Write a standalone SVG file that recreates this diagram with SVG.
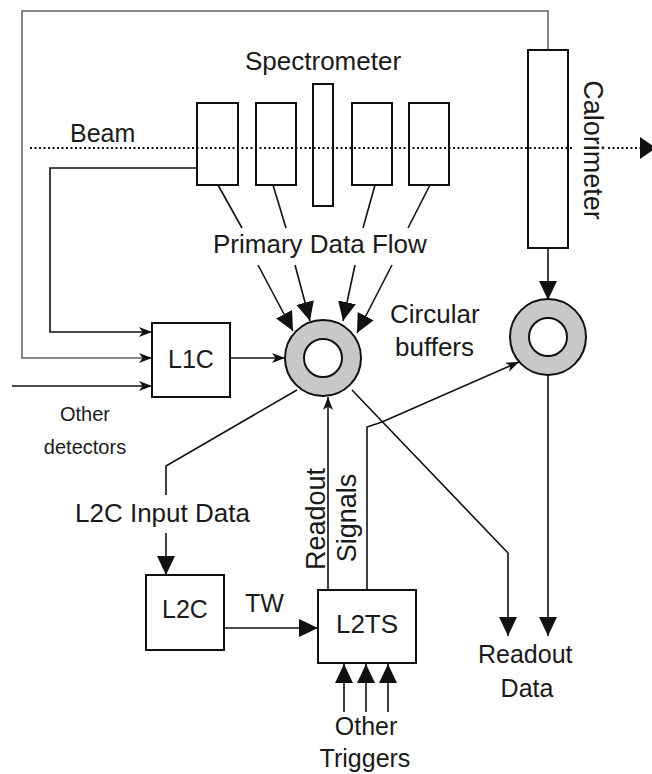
<svg xmlns="http://www.w3.org/2000/svg" width="652" height="774" viewBox="0 0 652 774">
<style>
  text { font-family: "Liberation Sans", Arial, sans-serif; fill: #1a1a1a; }
  .t25 { font-size: 25px; }
  .t26 { font-size: 26px; }
  .t27 { font-size: 27px; }
  .t20 { font-size: 20px; }
  .mid { text-anchor: middle; }
  .box { fill: #fff; stroke: #111; stroke-width: 2; }
  .ln { fill: none; stroke: #111; stroke-width: 1.6; }
  .frame { fill: none; stroke: #666; stroke-width: 1.6; }
  .beam { fill: none; stroke: #111; stroke-width: 2; stroke-dasharray: 2 2.5; }
  .ring { fill: #c8c8c8; stroke: #111; stroke-width: 2; }
  .hole { fill: #fff; stroke: #111; stroke-width: 2; }
  .big { marker-end: url(#big); }
  .small { marker-end: url(#small); }
</style>
<defs>
  <marker id="big" markerUnits="userSpaceOnUse" markerWidth="20" markerHeight="20" viewBox="0 0 20 20" refX="19" refY="10" orient="auto">
    <path d="M0,1 L19,10 L0,19 z" fill="#111"/>
  </marker>
  <marker id="small" markerUnits="userSpaceOnUse" markerWidth="14" markerHeight="10" viewBox="0 0 14 10" refX="13" refY="5" orient="auto">
    <path d="M0,0 L13,5 L0,10 L3.5,5 z" fill="#111"/>
  </marker>
</defs>
<rect width="652" height="774" fill="#fff"/>

<g id="connectors">
  <!-- outer feedback frame from calorimeter to L1C -->
  <path class="frame small" d="M548,50 L548,11 L22,11 L22,358 L152,358"/>
  <!-- first spectrometer chamber to L1C -->
  <path class="ln small" d="M197,168 L50,168 L50,332 L152,332"/>
  <!-- other detectors -->
  <path class="ln small" d="M12,386 L152,386"/>
  <!-- L1C to circular buffer -->
  <path class="ln small" d="M230,358 L285,358"/>
  <!-- primary data flow -->
  <path class="ln" d="M218,185 L242,228"/>
  <path class="ln" d="M273,185 L286,228"/>
  <path class="ln" d="M375,185 L363,228"/>
  <path class="ln" d="M430,185 L408,228"/>
  <path class="ln big" d="M258,265 L293,331"/>
  <path class="ln big" d="M295,265 L310,321"/>
  <path class="ln big" d="M355,265 L343,321"/>
  <path class="ln big" d="M392,265 L357,333"/>
  <!-- calorimeter to its buffer -->
  <path class="ln big" d="M548,248 L548,300"/>
  <!-- buffer to L2C -->
  <path class="ln" d="M297,390 L166,466 L166,495"/>
  <path class="ln big" d="M166,533 L166,575"/>
  <!-- TW -->
  <path class="ln big" d="M224,628 L318,628"/>
  <!-- other triggers -->
  <path class="ln big" d="M344,712 L344,664"/>
  <path class="ln big" d="M366,712 L366,664"/>
  <path class="ln big" d="M388,712 L388,664"/>
  <!-- readout signals -->
  <path class="ln small" d="M328,590 L328,397"/>
  <path class="ln small" d="M367,590 L367,427 L382,422 L519,362"/>
  <!-- readout data -->
  <path class="ln big" d="M352,390 L508,553 L508,636"/>
  <path class="ln big" d="M548,375 L548,636"/>
  <!-- beam -->
  <path class="beam" d="M30,148 L574,148"/>
  <path class="beam" d="M608,148 L641,148"/>
  <path d="M640,137 L656,148 L640,159 z" fill="#111"/>
</g>

<g id="spectrometer">
  <rect class="box" x="197" y="103" width="41" height="82" fill-opacity="0"/>
  <rect class="box" x="256" y="103" width="40" height="82" fill-opacity="0"/>
  <rect class="box" x="313" y="84" width="20" height="122" fill-opacity="0"/>
  <rect class="box" x="352" y="103" width="40" height="82" fill-opacity="0"/>
  <rect class="box" x="409" y="103" width="40" height="82" fill-opacity="0"/>
  <text class="t26" x="245" y="70">Spectrometer</text>
</g>

<g id="beam-label">
  <text class="t25" x="70" y="142">Beam</text>
</g>

<g id="calorimeter">
  <rect class="box" x="528" y="50" width="40" height="198" fill-opacity="0"/>
  <text class="t27 mid" transform="translate(584,150) rotate(90)">Calorimeter</text>
</g>

<g id="primary-data-flow">
  <text class="t26" x="213" y="253">Primary Data Flow</text>
</g>

<g id="buffer1">
  <circle class="ring" cx="323" cy="358" r="38"/>
  <circle class="hole" cx="323" cy="358" r="19"/>
</g>

<g id="buffer2">
  <circle class="ring" cx="548" cy="337" r="38"/>
  <circle class="hole" cx="548" cy="337" r="19"/>
</g>

<g id="circular-buffers-label">
  <text class="t26" x="390" y="323">Circular</text>
  <text class="t26" x="395" y="356">buffers</text>
</g>

<g id="L1C">
  <rect class="box" x="152" y="323" width="78" height="74"/>
  <text class="t25 mid" x="191" y="368">L1C</text>
</g>

<g id="other-detectors">
  <text class="t20 mid" x="85" y="421">Other</text>
  <text class="t20 mid" x="85" y="454">detectors</text>
</g>

<g id="L2C-input-label">
  <text class="t26" x="75" y="522">L2C Input Data</text>
</g>

<g id="L2C">
  <rect class="box" x="146" y="575" width="78" height="75"/>
  <text class="t25 mid" x="185" y="618">L2C</text>
</g>

<g id="TW-label">
  <text class="t25" x="245" y="612">TW</text>
</g>

<g id="L2TS">
  <rect class="box" x="318" y="590" width="98" height="73"/>
  <text class="t26 mid" x="367" y="633">L2TS</text>
</g>

<g id="readout-signals-label">
  <text class="t27 mid" transform="translate(325,519) rotate(-90)">Readout</text>
  <text class="t27 mid" transform="translate(356,518) rotate(-90)">Signals</text>
</g>

<g id="other-triggers">
  <text class="t25 mid" x="366" y="735">Other</text>
  <text class="t25 mid" x="365" y="767">Triggers</text>
</g>

<g id="readout-data">
  <text class="t25" x="478" y="663">Readout</text>
  <text class="t25 mid" x="527" y="697">Data</text>
</g>
</svg>
